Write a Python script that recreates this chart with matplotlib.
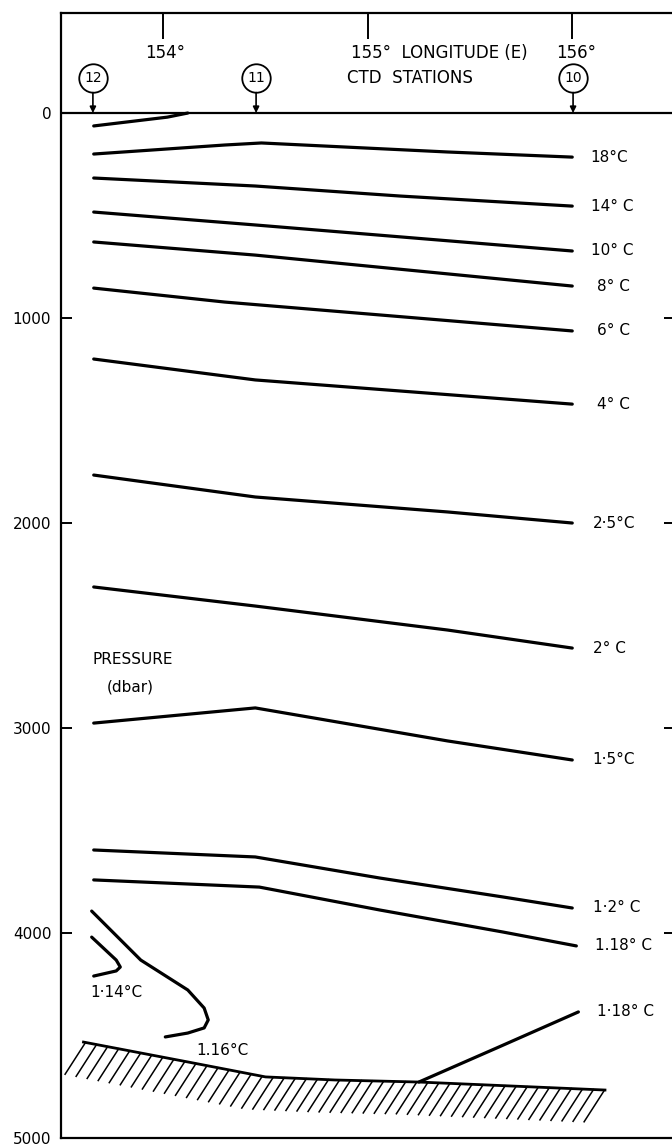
import matplotlib.pyplot as plt
import numpy as np

# station positions (longitude E)
stations = ['12', '11', '10']
station_lon = [153.656, 154.454, 156.004]

# isotherms: longitude / pressure (dbar) pairs
lon_top = [153.66, 154.02, 154.12]
p_top = [63, 20, 0]

lon_18 = [153.66, 154.30, 154.48, 155.39, 156.0]
p_18 = [200, 156, 146, 190, 215]
lon_14 = [153.66, 154.45, 155.16, 156.0]
p_14 = [317, 356, 405, 454]
lon_10 = [153.66, 154.45, 156.0]
p_10 = [483, 546, 673]
lon_8 = [153.66, 154.45, 156.0]
p_8 = [629, 693, 844]
lon_6 = [153.66, 154.30, 156.0]
p_6 = [854, 922, 1063]
lon_4 = [153.66, 154.45, 156.0]
p_4 = [1200, 1302, 1420]
lon_25 = [153.66, 154.45, 155.39, 156.0]
p_25 = [1766, 1873, 1946, 2000]
lon_2 = [153.66, 154.45, 155.39, 156.0]
p_2 = [2312, 2405, 2522, 2610]
lon_15 = [153.66, 154.45, 155.39, 156.0]
p_15 = [2976, 2902, 3063, 3156]
lon_12 = [153.66, 154.45, 155.06, 155.66, 156.0]
p_12 = [3595, 3629, 3732, 3824, 3878]
lon_118 = [153.66, 154.47, 155.06, 155.66, 156.02]
p_118 = [3741, 3776, 3888, 3995, 4063]

lon_116 = [153.65, 153.89, 154.12, 154.20, 154.22, 154.20, 154.12, 154.01]
p_116 = [3893, 4132, 4278, 4366, 4424, 4463, 4488, 4507]
lon_114 = [153.65, 153.77, 153.79, 153.77, 153.66]
p_114 = [4020, 4132, 4166, 4185, 4210]

lon_118b = [155.25, 155.63, 156.03]
p_118b = [4727, 4561, 4385]

# sea floor
floor_lon = [153.61, 154.12, 154.50, 154.84, 155.25, 156.16]
floor_p = [4532, 4629, 4702, 4717, 4727, 4766]

labels = ['18°C', '14° C', '10° C', '8° C', '6° C', '4° C', '2·5°C', '2° C',
          '1·5°C', '1·2° C', '1.18° C']
label_lon = [156.09, 156.09, 156.09, 156.12, 156.12, 156.12, 156.10, 156.10,
             156.10, 156.10, 156.11]

fig = plt.figure(figsize=(6.72, 11.47), dpi=100)
ax = fig.add_axes([61/672, 9/1147, 3.0*204.5/672, 1125/1147])
ax.set_xlim(153.5, 156.5)
ax.set_ylim(5000, -488)

lines = [(lon_18, p_18), (lon_14, p_14), (lon_10, p_10), (lon_8, p_8),
         (lon_6, p_6), (lon_4, p_4), (lon_25, p_25), (lon_2, p_2),
         (lon_15, p_15), (lon_12, p_12), (lon_118, p_118)]
for (lo, pr), lab, lx in zip(lines, labels, label_lon):
    ax.plot(lo, pr, color='black', lw=2.3, solid_capstyle='round')
    ax.text(lx, pr[-1], lab, fontsize=11, va='center', ha='left')

ax.plot(lon_top, p_top, color='black', lw=2.3, solid_capstyle='round')
ax.plot(lon_116, p_116, color='black', lw=2.3, solid_capstyle='round')
ax.plot(lon_114, p_114, color='black', lw=2.3, solid_capstyle='round')
ax.plot(lon_118b, p_118b, color='black', lw=2.3, solid_capstyle='round')
ax.text(156.12, p_118b[-1], '1·18° C', fontsize=11, va='center', ha='left')
ax.text(153.77, 4290, '1·14°C', fontsize=11, va='center', ha='center')
ax.text(154.29, 4575, '1.16°C', fontsize=11, va='center', ha='center')

# sea floor with hatching
ax.plot(floor_lon, floor_p, color='black', lw=2.0)
hx = np.arange(floor_lon[0] + 0.01, floor_lon[-1], 0.054)
hy = np.interp(hx, floor_lon, floor_p)
for x0, y0 in zip(hx, hy):
    ax.plot([x0, x0 - 0.1], [y0, y0 + 155], color='black', lw=1.1)

# header: surface line, stations
ax.axhline(0, color='black', lw=1.6)
for name, lo in zip(stations, station_lon):
    ax.plot(lo, -171, 'o', ms=20.5, mfc='white', mec='black', mew=1.3)
    ax.text(lo, -171, name, fontsize=10, ha='center', va='center')
    ax.annotate('', xy=(lo, 0), xytext=(lo, -100),
                arrowprops=dict(arrowstyle='-|>', color='black', lw=1.2,
                                mutation_scale=9, shrinkA=0, shrinkB=0))

ax.text(154.01, -293, '154°', fontsize=12, ha='center', va='center')
ax.text(154.92, -293, '155°  LONGITUDE (E)', fontsize=12, ha='left', va='center')
ax.text(156.02, -293, '156°', fontsize=12, ha='center', va='center')
ax.text(154.90, -171, 'CTD  STATIONS', fontsize=12, ha='left', va='center')

ax.text(153.85, 2665, 'PRESSURE', fontsize=11, ha='center', va='center')
ax.text(153.84, 2800, '(dbar)', fontsize=11, ha='center', va='center')

# axes / ticks
for s in ax.spines.values():
    s.set_linewidth(1.6)
ax.set_yticks([0, 1000, 2000, 3000, 4000, 5000])
ax.set_yticklabels(['0', '1000', '2000', '3000', '4000', '5000'], fontsize=11)
ax.tick_params(axis='y', direction='in', length=8, width=1.4, pad=7,
               left=True, right=True)
ax.set_xticks([154, 155, 156])
ax.tick_params(axis='x', direction='in', length=19, width=1.4,
               top=True, bottom=False, labeltop=False, labelbottom=False)

fig.savefig('out.png', dpi=100)
